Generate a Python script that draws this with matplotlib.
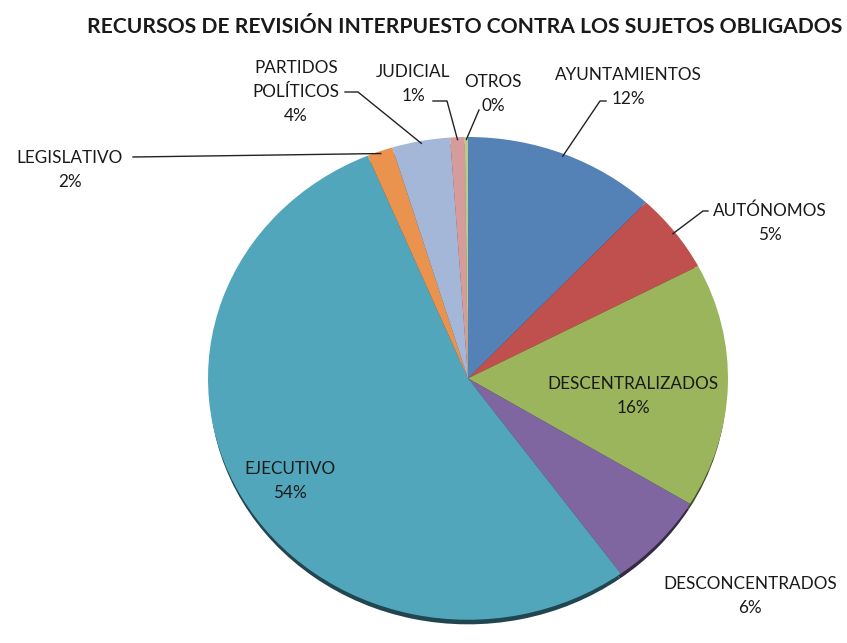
import matplotlib
matplotlib.use("Agg")
import matplotlib.pyplot as plt
import matplotlib.colors as mcolors
import numpy as np

# ---- data ----
categories = ["AYUNTAMIENTOS", "AUTÓNOMOS", "DESCENTRALIZADOS", "DESCONCENTRADOS",
              "EJECUTIVO", "LEGISLATIVO", "PARTIDOS\nPOLÍTICOS", "JUDICIAL", "OTROS"]
values = [12.0, 5.3, 16.4, 6.3, 53.7, 1.6, 3.6, 0.9, 0.2]
colors = ["#5482B6", "#C0504D", "#9BB55C", "#7F66A0", "#52A6BC",
          "#E9934E", "#A5B7D8", "#D69C9C", "#B7CC8A"]
title = "RECURSOS DE REVISIÓN INTERPUESTO CONTRA LOS SUJETOS OBLIGADOS"

W, H = 847, 643
fig = plt.figure(figsize=(W / 100, H / 100), dpi=100)
fig.patch.set_facecolor("white")

def fr(x0, y0, x1, y1):
    # pixel box (top-left origin) -> figure fraction rect
    return [x0 / W, 1 - y1 / H, (x1 - x0) / W, (y1 - y0) / H]

# pie axes (elliptical, to mimic the tilted pie)
pax = fig.add_axes(fr(208, 137, 728, 627))
dark = [tuple(np.array(mcolors.to_rgb(c)) * 0.42) for c in colors]
pax.pie(values, colors=dark, startangle=90, counterclock=False,
        center=(0, -0.024), radius=0.995, wedgeprops=dict(linewidth=0))
wedges, _ = pax.pie(values, colors=colors, startangle=90, counterclock=False,
                    radius=1.0, wedgeprops=dict(linewidth=0))
pax.set_aspect("auto")
pax.set_xlim(-1, 1)
pax.set_ylim(-1.03, 1)
pax.axis("off")

# overlay axes in pixel coordinates
ax = fig.add_axes([0, 0, 1, 1])
ax.set_xlim(0, W)
ax.set_ylim(H, 0)
ax.axis("off")
ax.patch.set_alpha(0)

font = "Lato"
fig.text(0.549, 1 - 27 / H, title, ha="center", va="center",
         fontsize=15.2, fontweight="bold", family=font, color="#1a1a1a")

def anchor(i, r=1.0):
    w = wedges[i]
    th = np.deg2rad((w.theta1 + w.theta2) / 2)
    disp = pax.transData.transform((r * np.cos(th), r * np.sin(th)))
    return ax.transData.inverted().transform(disp)

labels = [f"{c}\n{round(v):d}%" for c, v in zip(categories, values)]

# (text x, text y, leader line elbow points or None)
layout = [
    (628, 87, [(606, 101), (600, 101)]),      # AYUNTAMIENTOS
    (770, 223, [(708, 211), (703, 211)]),     # AUTÓNOMOS
    (633, 396, None),                          # DESCENTRALIZADOS
    (750, 596, None),                          # DESCONCENTRADOS
    (290, 481, None),                          # EJECUTIVO
    (70, 170, [(133, 157)]),                   # LEGISLATIVO
    (296, 92, [(345, 92), (358, 92)]),         # PARTIDOS
    (413, 84, [(433, 101), (447, 101)]),       # JUDICIAL
    (493, 94, [(479, 110)]),                   # OTROS
]

for i, (lab, (tx, ty, pts)) in enumerate(zip(labels, layout)):
    ax.text(tx, ty, lab, ha="center", va="center", fontsize=12.3,
            family=font, color="#1a1a1a", linespacing=1.65, zorder=5)
    if pts is not None:
        a = anchor(i, 0.99)
        xs = [p[0] for p in pts] + [a[0]]
        ys = [p[1] for p in pts] + [a[1]]
        ax.plot(xs, ys, color="#222222", lw=1.0, zorder=4)

fig.savefig("out.png", dpi=100, facecolor="white")
